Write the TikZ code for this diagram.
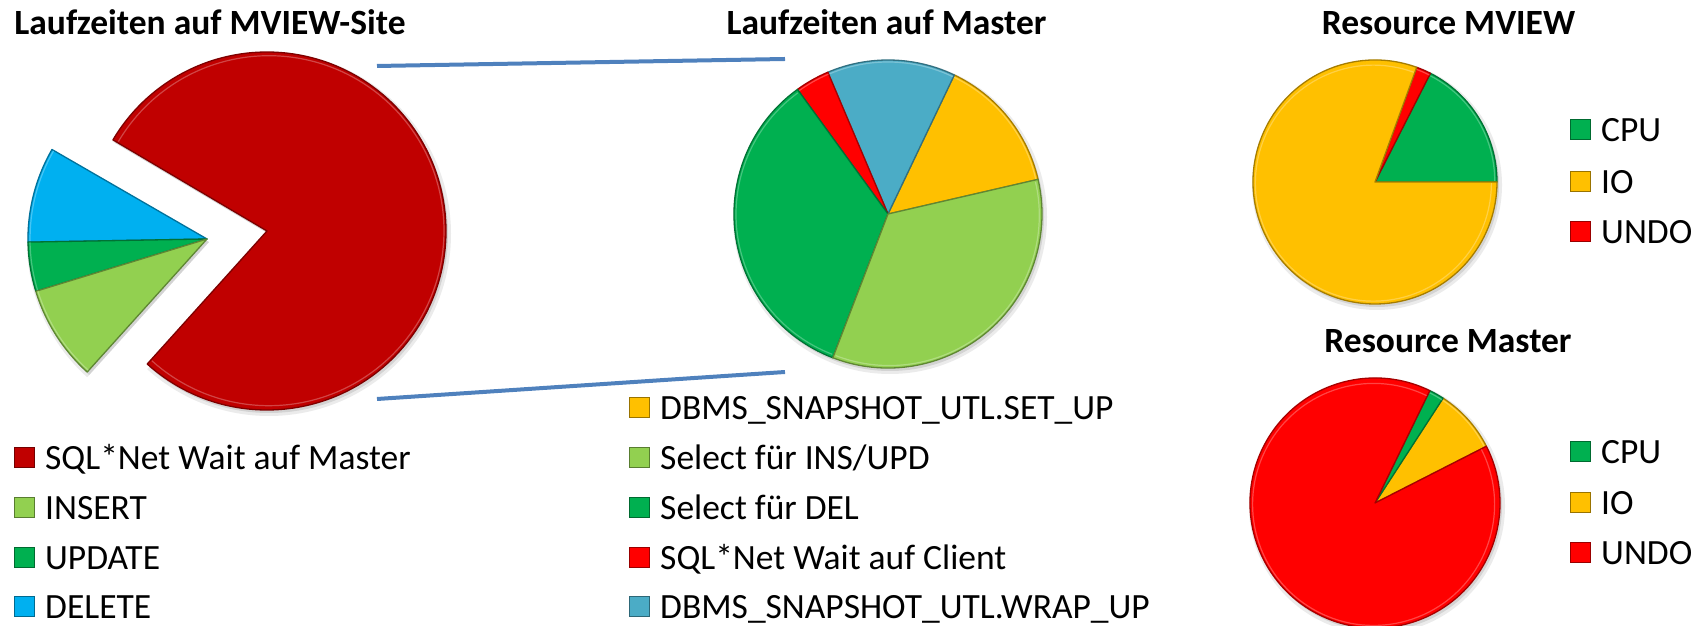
\documentclass[tikz,border=0pt]{standalone}
\usepackage{fontspec}
\setmainfont{Carlito}
\definecolor{dred}{HTML}{C00000}
\definecolor{lgreen}{HTML}{92D050}
\definecolor{mgreen}{HTML}{00B050}
\definecolor{sky}{HTML}{00B0F0}
\definecolor{teal}{HTML}{4BACC6}
\definecolor{gold}{HTML}{FFC000}
\definecolor{bred}{HTML}{FF0000}
\definecolor{zoomline}{HTML}{4F81BD}
\newcommand\pieslice[5]{% center, start, end, radius, colour
  \filldraw[fill=#5, draw=#5!65!black, line width=1.3pt, line join=round] (#1) -- ++(#2:#4) arc[start angle=#2, end angle=#3, radius=#4] -- cycle;
  \draw[#5!55!white, line width=1.2pt, opacity=0.6] ($(#1)+({(#2+#3)/2}:2)$) ++(#2:{#4-4}) arc[start angle=#2, end angle=#3, radius={#4-4}];}
\newcommand\pieshadow[4]{% center, start, end, radius
  \fill[black, opacity=0.08] ($(#1)+(2,-3)$) -- ++(#2:#4+3) arc[start angle=#2, end angle=#3, radius=#4+3] -- cycle;
  \fill[black, opacity=0.10] ($(#1)+(2,-3)$) -- ++(#2:#4) arc[start angle=#2, end angle=#3, radius=#4] -- cycle;}
\newcommand\lgd[5]{% name, square left x, row centre y (from top), colour, text
  \node[lgsq, fill=#4, draw=#4!60!black] (#1s) at (#2+10, 626-#3) {};
  \node[lgtext] (#1t) at (#2+31, 626-#3-11.4) {#5};}
\usetikzlibrary{calc}
\begin{document}
\begin{tikzpicture}[x=1pt, y=1pt,
  titletext/.style={font=\fontsize{35.5}{40}\selectfont\bfseries, inner sep=0pt, anchor=base},
  lgtext/.style={font=\fontsize{35.5}{40}\selectfont, inner sep=0pt, anchor=base west},
  lgsq/.style={minimum width=20pt, minimum height=20pt, inner sep=0pt, line width=1pt},
  zoomconn/.style={draw=zoomline, line width=4pt}]
\useasboundingbox (0,0) rectangle (1702,626);

% titles
\node[titletext] (t1) at (210,591) {Laufzeiten auf MVIEW-Site};
\node[titletext] (t2) at (886.5,591) {Laufzeiten auf Master};
\node[titletext] (t3) at (1448.5,591) {Resource MVIEW};
\node[titletext] (t4) at (1448,273) {Resource Master};

% left pie
\coordinate (cA) at (267,395);
\coordinate (cB) at (207,387);
\pieshadow{cA}{-132}{149.4}{179}
\pieshadow{cB}{150}{228}{179}
\pieslice{cA}{-132}{149.4}{179}{dred}
\pieslice{cB}{150}{181}{179}{sky}
\pieslice{cB}{181}{197}{179}{mgreen}
\pieslice{cB}{197}{228}{179}{lgreen}

% middle pie
\coordinate (cM) at (888,412);
\pieshadow{cM}{0}{360}{154}
\pieslice{cM}{13}{64.5}{154}{gold}
\pieslice{cM}{64.5}{113}{154}{teal}
\pieslice{cM}{113}{126}{154}{bred}
\pieslice{cM}{126}{249}{154}{mgreen}
\pieslice{cM}{249}{373}{154}{lgreen}

% connectors
\coordinate (la) at (377,560);
\coordinate (lb) at (785,567);
\coordinate (lc) at (377,227);
\coordinate (ld) at (785,254);
\draw[zoomconn] (la) -- (lb);
\draw[zoomconn] (lc) -- (ld);

% right top pie
\coordinate (cR) at (1375,444);
\pieshadow{cR}{0}{360}{122}
\pieslice{cR}{0}{63}{122}{mgreen}
\pieslice{cR}{63}{70}{122}{bred}
\pieslice{cR}{70}{360}{122}{gold}

% right bottom pie
\coordinate (cS) at (1375,123);
\pieshadow{cS}{0}{360}{125}
\pieslice{cS}{27}{57}{125}{gold}
\pieslice{cS}{57}{64}{125}{mgreen}
\pieslice{cS}{64}{387}{125}{bred}

% legends
\lgd{a1}{14}{458}{dred}{SQL*Net Wait auf Master}
\lgd{a2}{14}{508}{lgreen}{INSERT}
\lgd{a3}{14}{558}{mgreen}{UPDATE}
\lgd{a4}{14}{607}{sky}{DELETE}

\lgd{b1}{629}{408}{gold}{DBMS\_SNAPSHOT\_UTL.SET\_UP}
\lgd{b2}{629}{458}{lgreen}{Select für INS/UPD}
\lgd{b3}{629}{508}{mgreen}{Select für DEL}
\lgd{b4}{629}{558}{bred}{SQL*Net Wait auf Client}
\lgd{b5}{629}{607}{teal}{DBMS\_SNAPSHOT\_UTL.WRAP\_UP}

\lgd{c1}{1570}{130}{mgreen}{CPU}
\lgd{c2}{1570}{182}{gold}{IO}
\lgd{c3}{1570}{232}{bred}{UNDO}

\lgd{d1}{1570}{452}{mgreen}{CPU}
\lgd{d2}{1570}{503}{gold}{IO}
\lgd{d3}{1570}{553}{bred}{UNDO}
\end{tikzpicture}
\end{document}
